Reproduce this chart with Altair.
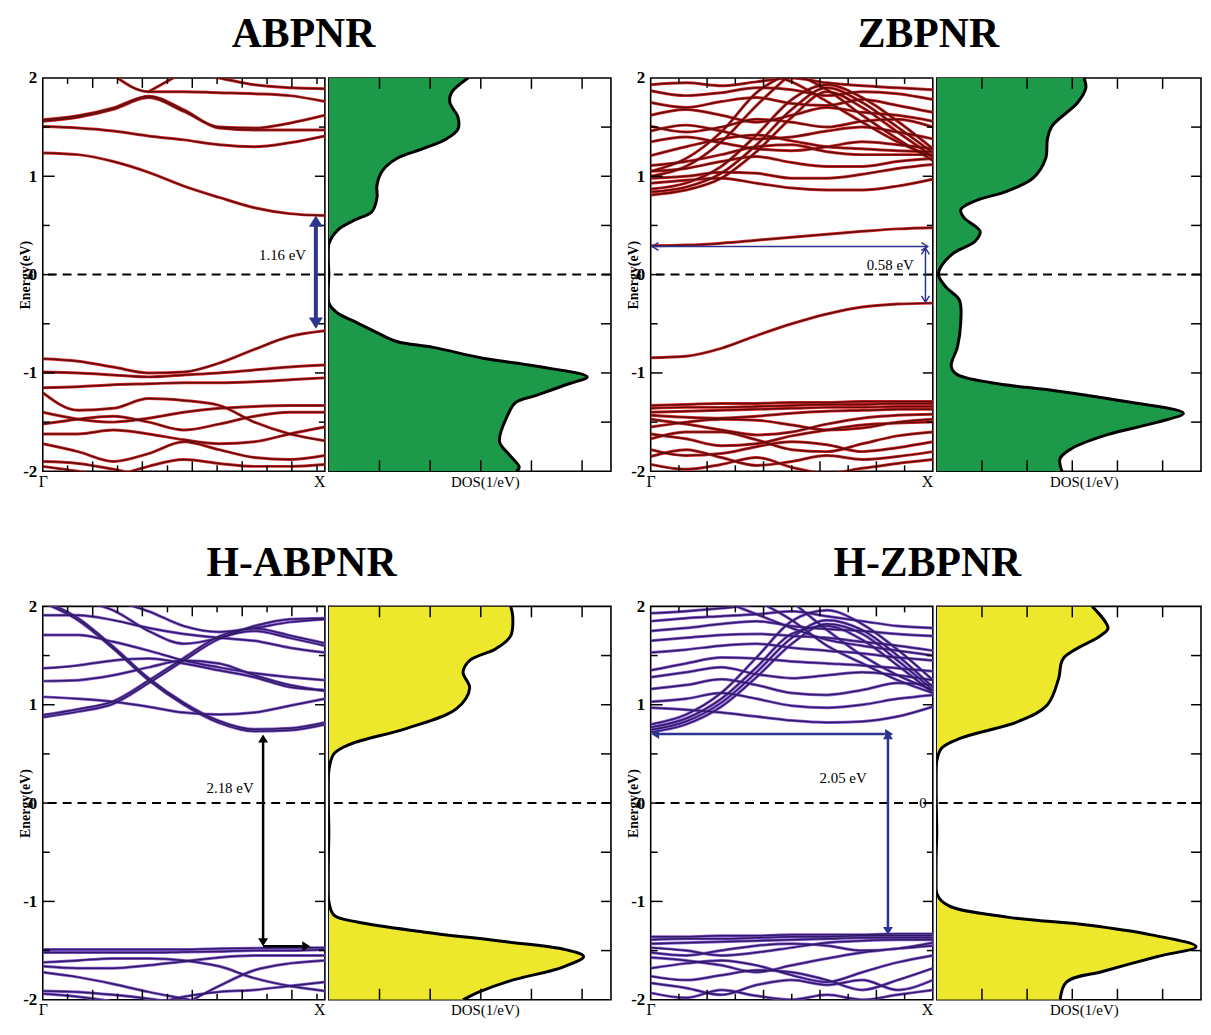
import altair as alt
import pandas as pd

FONT = "Liberation Serif"
N = None
K9 = [0.0, 0.125, 0.25, 0.375, 0.5, 0.625, 0.75, 0.875, 1.0]

# ---------------- band energies (eV) at K9 points, Gamma -> X ----------------
ab_bands = [
    [N, N, 2.03, 1.86, 1.86, 1.85, 1.84, 1.82, 1.76],
    [N, N, N, 1.86, 2.06],
    [N, N, N, N, 2.06, 2.00, 1.93, 1.90, 1.89],
    [1.56, 1.60, 1.68, 1.80, 1.66, 1.50, 1.49, 1.54, 1.62],
    [1.575, 1.615, 1.695, 1.815, 1.675, 1.49, 1.47, 1.47, 1.47],
    [1.505, 1.49, 1.46, 1.41, 1.37, 1.32, 1.30, 1.34, 1.41],
    [1.237, 1.22, 1.15, 1.04, 0.90, 0.785, 0.68, 0.62, 0.60],
    [-0.855, -0.88, -0.94, -1.00, -0.99, -0.90, -0.76, -0.63, -0.571],
    [-0.99, -1.00, -1.02, -1.04, -1.02, -1.00, -0.97, -0.94, -0.92],
    [-1.15, -1.14, -1.12, -1.11, -1.10, -1.10, -1.09, -1.07, -1.05],
    [-1.20, -1.38, -1.36, -1.26, -1.28, -1.33, -1.50, -1.62, -1.69],
    [-1.40, -1.47, -1.50, -1.46, -1.40, -1.36, -1.34, -1.33, -1.33],
    [-1.52, -1.47, -1.44, -1.50, -1.58, -1.52, -1.44, -1.40, -1.40],
    [-1.62, -1.62, -1.58, -1.62, -1.68, -1.72, -1.70, -1.62, -1.55],
    [-1.72, -1.80, -1.90, -1.82, -1.70, -1.78, -1.86, -1.88, -1.84],
    [-1.90, -1.92, -1.98, -2.06],
    [N, N, -2.06, -1.95, -1.88, -1.92, -1.95, -1.95, -1.93],
    [-1.95, -2.00, -2.06],
]

zb_bands = [
    [0.81, 0.86, 0.98, 1.25, 1.60, 1.86, 1.70, 1.45, 1.20],
    [0.84, 0.89, 1.03, 1.32, 1.68, 1.90, 1.75, 1.50, 1.24],
    [0.87, 0.93, 1.10, 1.42, 1.78, 1.93, 1.80, 1.56, 1.28],
    [0.93, 0.96, 0.98, 0.93, 0.88, 0.86, 0.86, 0.90, 0.97],
    [0.98, 1.00, 1.04, 1.03, 0.98, 0.98, 1.02, 1.08, 1.12],
    [1.05, 1.08, 1.15, 1.20, 1.14, 1.10, 1.10, 1.15, 1.18],
    [1.11, 1.15, 1.22, 1.30, 1.32, 1.25, 1.22, 1.22, 1.22],
    [1.21, 1.30, 1.38, 1.42, 1.36, 1.30, 1.28, 1.26, 1.25],
    [1.35, 1.40, 1.34, 1.28, 1.26, 1.30, 1.35, 1.32, 1.28],
    [1.46, 1.52, 1.46, 1.38, 1.40, 1.46, 1.50, 1.45, 1.38],
    [1.51, 1.45, 1.50, 1.58, 1.55, 1.50, 1.56, 1.58, 1.50],
    [1.62, 1.68, 1.62, 1.55, 1.62, 1.70, 1.65, 1.62, 1.56],
    [1.75, 1.70, 1.76, 1.80, 1.74, 1.72, 1.78, 1.72, 1.65],
    [1.87, 1.82, 1.85, 1.90, 1.88, 1.82, 1.86, 1.84, 1.78],
    [1.93, 1.95, 1.92, 1.96, 2.00, 1.95, 1.92, 1.90, 1.88],
    [N, N, N, N, 2.06, 1.88, 1.62, 1.38, 1.16],
    [N, N, N, 2.06, 1.96, 1.76, 1.55, 1.35, 1.20],
    [1.00, 1.10, 1.35, 1.72, 2.05],
    [1.05, 1.18, 1.45, 1.85, 2.06],
    [0.293, 0.30, 0.32, 0.35, 0.38, 0.41, 0.44, 0.465, 0.477],
    [-0.845, -0.83, -0.75, -0.62, -0.50, -0.40, -0.33, -0.30, -0.29],
    [-1.33, -1.32, -1.31, -1.31, -1.30, -1.30, -1.29, -1.29, -1.29],
    [-1.36, -1.35, -1.35, -1.34, -1.33, -1.32, -1.32, -1.31, -1.31],
    [-1.40, -1.39, -1.38, -1.37, -1.36, -1.35, -1.35, -1.34, -1.34],
    [-1.43, -1.45, -1.46, -1.44, -1.41, -1.39, -1.38, -1.37, -1.37],
    [-1.47, -1.52, -1.58, -1.63, -1.60, -1.52, -1.46, -1.43, -1.42],
    [-1.55, -1.50, -1.47, -1.48, -1.53, -1.58, -1.56, -1.50, -1.47],
    [-1.62, -1.67, -1.74, -1.72, -1.64, -1.58, -1.53, -1.51, -1.50],
    [-1.67, -1.60, -1.60, -1.68, -1.78, -1.80, -1.72, -1.64, -1.60],
    [-1.78, -1.84, -1.82, -1.75, -1.70, -1.73, -1.80, -1.76, -1.70],
    [-1.85, -1.78, -1.86, -1.94, -1.90, -1.84, -1.88, -1.85, -1.80],
    [-1.93, -1.98, -1.93, -1.86, -1.96, -2.02, -1.97, -1.92, -1.88],
]

hab_bands = [
    [0.872, 0.93, 1.01, 1.22, 1.45, 1.67, 1.75, 1.68, 1.60],
    [0.895, 0.955, 1.035, 1.245, 1.475, 1.695, 1.775, 1.705, 1.625],
    [2.04, 1.86, 1.57, 1.25, 1.00, 0.815, 0.73, 0.74, 0.80],
    [2.06, 1.88, 1.59, 1.27, 1.02, 0.835, 0.75, 0.76, 0.82],
    [1.08, 1.06, 1.03, 0.98, 0.92, 0.90, 0.92, 0.99, 1.06],
    [1.24, 1.25, 1.30, 1.38, 1.45, 1.42, 1.30, 1.20, 1.14],
    [1.37, 1.40, 1.45, 1.47, 1.42, 1.35, 1.28, 1.18, 1.15],
    [1.71, 1.71, 1.64, 1.55, 1.45, 1.38, 1.32, 1.28, 1.25],
    [1.91, 1.91, 1.86, 1.78, 1.72, 1.68, 1.65, 1.58, 1.53],
    [N, 2.06, 1.96, 1.75, 1.62, 1.68, 1.80, 1.87, 1.88],
    [N, N, 2.06, 1.95, 1.80, 1.74, 1.78, 1.84, 1.87],
    [-1.49, -1.49, -1.49, -1.49, -1.49, -1.48, -1.475, -1.47, -1.47],
    [-1.52, -1.52, -1.52, -1.52, -1.515, -1.51, -1.50, -1.50, -1.49],
    [-1.62, -1.60, -1.58, -1.58, -1.60, -1.66, -1.78, -1.86, -1.91],
    [-1.66, -1.68, -1.68, -1.65, -1.61, -1.57, -1.55, -1.55, -1.55],
    [-1.72, -1.77, -1.84, -1.92, -1.99, -2.06],
    [N, N, N, N, -2.05, -1.86, -1.70, -1.63, -1.60],
    [-1.91, -1.92, -1.95, -1.99, -2.04],
    [-1.94, -1.97, -2.02],
    [N, N, N, -2.06, -1.97, -1.92, -1.90, -1.86, -1.82],
]

hzb_bands = [
    [0.72, 0.80, 0.98, 1.28, 1.62, 1.82, 1.72, 1.45, 1.15],
    [0.745, 0.83, 1.02, 1.33, 1.68, 1.86, 1.76, 1.50, 1.18],
    [0.77, 0.86, 1.06, 1.38, 1.72, 1.80, 1.66, 1.40, 1.12],
    [0.80, 0.90, 1.12, 1.48, 1.85, 1.96, 1.82, 1.56, 1.25],
    [0.97, 0.95, 0.92, 0.88, 0.84, 0.82, 0.83, 0.88, 0.98],
    [1.03, 1.06, 1.12, 1.06, 0.99, 0.97, 1.00, 1.06, 1.10],
    [1.16, 1.20, 1.26, 1.20, 1.12, 1.10, 1.15, 1.22, 1.20],
    [1.28, 1.33, 1.38, 1.31, 1.27, 1.30, 1.33, 1.30, 1.25],
    [1.35, 1.42, 1.48, 1.47, 1.44, 1.42, 1.40, 1.37, 1.34],
    [1.53, 1.56, 1.60, 1.62, 1.58, 1.55, 1.52, 1.48, 1.45],
    [1.65, 1.68, 1.71, 1.72, 1.70, 1.68, 1.64, 1.60, 1.55],
    [1.75, 1.78, 1.82, 1.85, 1.80, 1.77, 1.75, 1.72, 1.70],
    [1.85, 1.88, 1.90, 1.92, 1.95, 1.90, 1.85, 1.80, 1.78],
    [1.93, 1.95, 1.98, 2.02, 2.05],
    [N, N, N, N, 2.05, 1.76, 1.50, 1.30, 1.15],
    [N, N, N, 2.06, 1.86, 1.60, 1.42, 1.25, 1.12],
    [N, N, 2.06, 1.92, 1.78, 1.66, 1.60, 1.55, 1.50],
    [-1.36, -1.36, -1.35, -1.35, -1.34, -1.34, -1.34, -1.33, -1.33],
    [-1.39, -1.38, -1.38, -1.37, -1.36, -1.36, -1.35, -1.35, -1.35],
    [-1.43, -1.42, -1.41, -1.40, -1.39, -1.38, -1.37, -1.37, -1.37],
    [-1.47, -1.50, -1.55, -1.52, -1.47, -1.42, -1.40, -1.39, -1.39],
    [-1.52, -1.55, -1.50, -1.45, -1.43, -1.45, -1.50, -1.48, -1.42],
    [-1.57, -1.60, -1.65, -1.72, -1.65, -1.58, -1.52, -1.48, -1.45],
    [-1.68, -1.63, -1.60, -1.65, -1.75, -1.82, -1.72, -1.62, -1.55],
    [-1.76, -1.80, -1.75, -1.70, -1.72, -1.80, -1.90, -1.80, -1.68],
    [-1.83, -1.88, -1.95, -1.85, -1.80, -1.85, -1.80, -1.90, -1.80],
    [-1.93, -1.98, -1.90, -1.96, -2.00, -1.95, -2.00, -1.95, -1.90],
]

# ---------------- DOS curves (energy, DOS in tick units) ----------------
ab_dos_e = [2.0, 1.85, 1.75, 1.60, 1.48, 1.38, 1.28, 1.18, 1.05, 0.91, 0.78, 0.64, 0.55, 0.45, 0.31, 0.0,
            -0.29, -0.39, -0.49, -0.59, -0.68, -0.74, -0.85, -0.93, -1.04, -1.11, -1.23, -1.30, -1.43, -1.70,
            -1.83, -1.96, -2.0]
ab_dos_v = [2.75, 2.42, 2.39, 2.55, 2.55, 2.32, 1.86, 1.34, 1.05, 0.95, 0.95, 0.85, 0.49, 0.17, 0.0, 0.0,
            0.0, 0.17, 0.56, 0.95, 1.34, 2.06, 3.04, 4.08, 5.10, 4.74, 4.08, 3.69, 3.53, 3.37,
            3.56, 3.76, 3.70]

zb_dos_e = [2.0, 1.90, 1.75, 1.51, 1.38, 1.18, 0.98, 0.85, 0.75, 0.66, 0.58, 0.44, 0.34, 0.21, 0.06, -0.01,
            -0.13, -0.26, -0.49, -0.73, -0.93, -1.01, -1.10, -1.18, -1.28, -1.41, -1.50, -1.63, -1.77, -1.87,
            -2.0]
zb_dos_v = [3.26, 3.30, 3.12, 2.55, 2.45, 2.41, 2.13, 1.56, 0.85, 0.53, 0.60, 0.96, 0.85, 0.35, 0.07, 0.04,
            0.21, 0.50, 0.53, 0.46, 0.32, 0.43, 1.21, 2.62, 4.04, 5.46, 4.89, 3.76, 2.98, 2.73,
            2.77]

hab_dos_e = [2.0, 1.90, 1.70, 1.57, 1.45, 1.33, 1.17, 0.96, 0.76, 0.60, 0.50, 0.33, -0.30, -1.0, -1.14,
             -1.21, -1.31, -1.41, -1.49, -1.56, -1.67, -1.81, -1.92, -2.0]
hab_dos_v = [3.59, 3.63, 3.59, 3.30, 2.78, 2.65, 2.78, 2.52, 1.54, 0.43, 0.10, 0.0, 0.0, 0.0, 0.10,
             0.56, 1.86, 3.50, 4.67, 5.03, 4.61, 3.56, 2.97, 2.65]

hzb_dos_e = [2.0, 1.78, 1.70, 1.47, 1.27, 1.0, 0.83, 0.66, 0.56, 0.43, -0.30, -0.92, -1.04, -1.16, -1.24,
             -1.34, -1.46, -1.56, -1.71, -1.82, -2.0]
hzb_dos_v = [3.44, 3.79, 3.62, 2.80, 2.70, 2.45, 1.81, 0.53, 0.11, 0.0, 0.0, 0.0, 0.25, 1.56, 3.33,
             4.75, 5.74, 4.89, 3.69, 2.87, 2.73]

# ---------------- gap annotations ----------------
UP_F, DOWN_F = "M0,0L-1,1.6L1,1.6Z", "M0,0L-1,-1.6L1,-1.6Z"
LEFT_F, RIGHT_F = "M0,0L1.6,-1L1.6,1Z", "M0,0L-1.6,-1L-1.6,1Z"
UP_O, DOWN_O = "M-1,1.6L0,0L1,1.6", "M-1,-1.6L0,0L1,-1.6"
LEFT_O, RIGHT_O = "M1.6,-1L0,0L1.6,1", "M-1.6,-1L0,0L-1.6,1"

ab_seg = [(0.968, 0.50, 0.968, -0.45)]
ab_heads = [(0.968, 0.60, UP_F), (0.968, -0.55, DOWN_F)]
ab_label = [(0.85, 0.20, "1.16 eV")]

zb_seg = [(0.005, 0.286, 0.982, 0.286), (0.974, 0.27, 0.974, -0.28)]
zb_heads = [(0.005, 0.286, LEFT_O), (0.982, 0.286, RIGHT_O), (0.974, 0.27, UP_O), (0.974, -0.28, DOWN_O)]
zb_label = [(0.849, 0.10, "0.58 eV")]

hab_seg = [(0.781, 0.66, 0.781, -1.415), (0.781, -1.455, 0.92, -1.455)]
hab_heads = [(0.781, 0.698, UP_F), (0.781, -1.455, DOWN_F), (0.948, -1.455, RIGHT_F)]
hab_label = [(0.664, 0.155, "2.18 eV")]

hzb_seg = [(0.03, 0.703, 0.83, 0.703), (0.841, 0.69, 0.841, -1.30)]
hzb_heads = [(0.002, 0.703, LEFT_F), (0.859, 0.703, RIGHT_F), (0.841, 0.73, UP_F), (0.841, -1.34, DOWN_F)]
hzb_label = [(0.682, 0.256, "2.05 eV"), (0.965, 0.0, "0")]

# tick positions
AB_KMIN = [0.088, 0.265, 0.442, 0.618, 0.795, 0.972]
AB_KMAJ = [0.177, 0.353, 0.530, 0.707, 0.883]
ZB_KMIN = [0.1, 0.3, 0.5, 0.7, 0.9]
ZB_KMAJ = [0.2, 0.4, 0.6, 0.8]
E_MAJ = [-1, 0, 1]
E_MIN = [-1.5, -0.5, 0.5, 1.5]
E_ALL = [-1.5, -1, -0.5, 0, 0.5, 1, 1.5]

H = 396
WB = 284
YS = alt.Scale(domain=[-2, 2], nice=False, zero=False)


def band_df(bands):
    rows = []
    for i, b in enumerate(bands):
        for k, e in zip(K9, b):
            if e is not None:
                rows.append({"band": i, "k": k, "e": e})
    return pd.DataFrame(rows)


def hticks(vals, x0, x1):
    return alt.Chart(pd.DataFrame({"e": vals})).mark_rule(color="black", strokeWidth=1.5).encode(
        y="e:Q", x=alt.value(x0), x2=alt.value(x1))


def vticks(field, vals, y0, y1):
    return alt.Chart(pd.DataFrame({field: vals})).mark_rule(color="black", strokeWidth=1.5).encode(
        x=f"{field}:Q", y=alt.value(y0), y2=alt.value(y1))


def zero_line():
    return alt.Chart(pd.DataFrame({"e": [0]})).mark_rule(
        color="black", strokeWidth=2, strokeDash=[9, 6]).encode(y="e:Q")


def band_view(bands, under, core, kmin, kmaj, segs, heads, acolor, awidth, afilled, hsize, labels):
    df = band_df(bands)
    xs = alt.Scale(domain=[0, 1], nice=False, zero=False)
    xaxis = alt.Axis(values=[0, 1], labelExpr="datum.value == 0 ? 'Γ' : 'X'", ticks=False, domain=False,
                     grid=False, labelFlush=False, labelPadding=2, labelFontSize=16, title=None,
                     labelAlign={"expr": "datum.value == 0 ? 'center' : 'right'"})
    yaxis = alt.Axis(values=[-2, -1, 0, 1, 2], labelExpr="'' + datum.value", ticks=False, domain=False,
                     grid=False, labelPadding=6, labelFontSize=17, labelFontWeight="bold",
                     title="Energy(eV)", titleFontSize=14, titleFontWeight="bold", titleX=-13,
                     titleBaseline="alphabetic")
    base = alt.Chart(df)
    l1 = base.mark_line(color=under, strokeWidth=3.0, interpolate="monotone", clip=True).encode(
        x=alt.X("k:Q", scale=xs, axis=xaxis), y=alt.Y("e:Q", scale=YS, axis=yaxis), detail="band:N")
    l2 = base.mark_line(color=core, strokeWidth=1.5, interpolate="monotone", clip=True).encode(
        x="k:Q", y="e:Q", detail="band:N")
    sdf = pd.DataFrame(segs, columns=["k", "e", "k2", "e2"])
    seg = alt.Chart(sdf).mark_rule(color=acolor, strokeWidth=awidth).encode(
        x="k:Q", y="e:Q", x2="k2:Q", y2="e2:Q")
    hdf = pd.DataFrame(heads, columns=["k", "e", "shape"])
    if afilled:
        hm = alt.Chart(hdf).mark_point(filled=True, color=acolor, opacity=1, size=hsize, strokeWidth=0)
    else:
        hm = alt.Chart(hdf).mark_point(filled=False, color=acolor, opacity=1, size=hsize, strokeWidth=awidth)
    hd = hm.encode(x="k:Q", y="e:Q", shape=alt.Shape("shape:N", scale=None, legend=None))
    ldf = pd.DataFrame(labels, columns=["k", "e", "t"])
    lab = alt.Chart(ldf).mark_text(font=FONT, fontSize=15, color="black", align="center",
                                   baseline="middle").encode(x="k:Q", y="e:Q", text="t:N")
    layers = [l1, l2, zero_line(),
              hticks(E_MAJ, 0, 12), hticks(E_MIN, 0, 7),
              hticks(E_MAJ, WB, WB - 10), hticks(E_MIN, WB, WB - 6),
              vticks("k", kmaj, 0, 10), vticks("k", kmin, 0, 6),
              vticks("k", kmaj, H, H - 10), vticks("k", kmin, H, H - 6),
              seg, hd, lab]
    return alt.layer(*layers).properties(width=WB, height=H)


def dos_view(dos_e, dos_v, dmax, W, fill):
    df = pd.DataFrame({"e": dos_e, "dos": dos_v})
    xs = alt.Scale(domain=[0, dmax], nice=False, zero=False)
    xaxis = alt.Axis(title="DOS(1/eV)", labels=False, ticks=False, domain=False, grid=False,
                     titleFontSize=15, titleFontWeight="normal", titleX=W / 2 + 15, titleY=15,
                     titleBaseline="alphabetic")
    area = alt.Chart(df).mark_area(orient="horizontal", color=fill, interpolate="catmull-rom",
                                   clip=True).encode(
        x=alt.X("dos:Q", scale=xs, axis=xaxis, stack=None), y=alt.Y("e:Q", scale=YS, axis=None))
    line = alt.Chart(df).mark_line(color="black", strokeWidth=3, interpolate="catmull-rom",
                                   clip=True).encode(x="dos:Q", y="e:Q", order="e:Q")
    dt = [1, 2, 3, 4, 5]
    layers = [area, line, zero_line(), hticks(E_ALL, W, W - 10),
              vticks("dos", dt, 0, 11), vticks("dos", dt, H, H - 11)]
    return alt.layer(*layers).properties(width=W, height=H)


def panel(title, dx, band, dos):
    return alt.hconcat(band, dos, spacing=0).resolve_scale(
        x="independent", y="independent").properties(
        title=alt.Title(title, font=FONT, fontSize=42, fontWeight="bold", color="black",
                        anchor="middle", offset=12, dx=dx))


RED_U, RED_C = "#d62828", "#5e0d0d"
PUR_U, PUR_C = "#8e5bd6", "#2d1b63"
GREEN, YELLOW = "#1c9a4a", "#eee82c"
NAVY = "#2b3590"
DOS_R = 266

p_ab = panel("ABPNR", -12,
             band_view(ab_bands, RED_U, RED_C, AB_KMIN, AB_KMAJ, ab_seg, ab_heads, NAVY, 4, True, 196, ab_label),
             dos_view(ab_dos_e, ab_dos_v, 5.57, 284, GREEN))
p_zb = panel("ZBPNR", 14,
             band_view(zb_bands, RED_U, RED_C, ZB_KMIN, ZB_KMAJ, zb_seg, zb_heads, NAVY, 1.5, False, 64, zb_label),
             dos_view(zb_dos_e, zb_dos_v, 5.85, DOS_R, GREEN))
p_hab = panel("H-ABPNR", -14,
              band_view(hab_bands, PUR_U, PUR_C, AB_KMIN, AB_KMAJ, hab_seg, hab_heads, "black", 2.5, True, 100, hab_label),
              dos_view(hab_dos_e, hab_dos_v, 5.57, 284, YELLOW))
p_hzb = panel("H-ZBPNR", 13,
              band_view(hzb_bands, PUR_U, PUR_C, ZB_KMIN, ZB_KMAJ, hzb_seg, hzb_heads, NAVY, 2.5, True, 100, hzb_label),
              dos_view(hzb_dos_e, hzb_dos_v, 5.85, DOS_R, YELLOW))

row1 = alt.hconcat(p_ab, p_zb, spacing=13).resolve_scale(x="independent", y="independent")
row2 = alt.hconcat(p_hab, p_hzb, spacing=13).resolve_scale(x="independent", y="independent")

chart = alt.vconcat(row1, row2, spacing=52).resolve_scale(x="independent", y="independent").properties(
    padding={"left": 10, "top": 2, "right": 0, "bottom": 0}, background="white"
).configure_view(stroke="black", strokeWidth=1.6).configure_axis(
    labelFont=FONT, titleFont=FONT, labelColor="black", titleColor="black"
)

chart.save("out.html", embed_options={"renderer": "svg", "actions": False})
